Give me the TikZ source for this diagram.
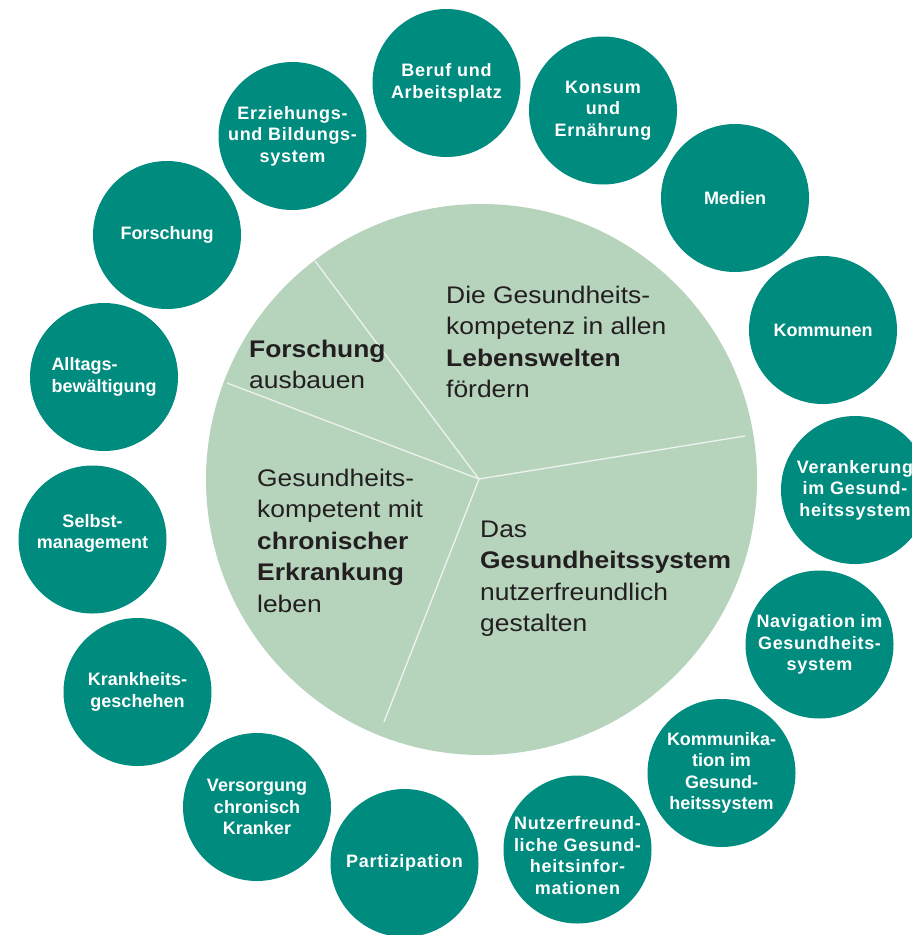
\documentclass[tikz,border=0pt]{standalone}
\usepackage{fontspec}
\setmainfont{Liberation Sans}
\newfontfamily\bubblefont{Liberation Sans}
\newfontfamily\bubblespaced[LetterSpace=4]{Liberation Sans}
\newfontfamily\piefont[FakeStretch=1.1]{Liberation Sans}

\definecolor{bubbleteal}{HTML}{008B7F}
\definecolor{piegreen}{HTML}{B6D3BC}
\definecolor{pietext}{HTML}{231F20}
\definecolor{dividerline}{HTML}{EEF3EF}

\tikzset{
  bubble/.style={circle, fill=bubbleteal, minimum size=148pt, inner sep=0pt,
    text=white, align=center,
    font=\bubblefont\bfseries\fontsize{18}{21.5}\selectfont},
  bubbletext/.style={inner sep=0pt, text=white, align=center,
    font=\bubblefont\bfseries\fontsize{18}{21.5}\selectfont},
  spaced/.style={font=\bubblespaced\bfseries\fontsize{18}{21.5}\selectfont},
  % multi-line text: the base anchor sits on the last line
  pietxt/.style={anchor=base west, inner sep=0pt, align=left, text=pietext,
    font=\piefont\fontsize{24}{31.5}\selectfont},
  divider/.style={draw=dividerline, line width=1.3pt}
}

\begin{document}
\begin{tikzpicture}[x=1pt, y=-1pt]
  \clip (0,0) rectangle (912,935);
  \fill[white] (0,0) rectangle (912,935);

  % central disc with its four fields
  \coordinate (pc) at (481.5,479.5);
  \fill[piegreen] (pc) circle (275.5);
  \coordinate (hub) at (479,479);
  \coordinate (d1) at (315,261);
  \coordinate (d2) at (227,383);
  \coordinate (d3) at (745,436);
  \coordinate (d4) at (384,722);
  \draw[divider] (hub) -- (d1);
  \draw[divider] (hub) -- (d2);
  \draw[divider] (hub) -- (d3);
  \draw[divider] (hub) -- (d4);

  \node[pietxt] (f1) at (446,397.5) {Die Gesundheits-\\kompetenz in allen\\\textbf{Lebenswelten}\\fördern};
  \node[pietxt] (f2) at (249,388.5) {\textbf{Forschung}\\ausbauen};
  \node[pietxt] (f3) at (257,612) {Gesundheits-\\kompetent mit\\\textbf{chronischer}\\\textbf{Erkrankung}\\leben};
  \node[pietxt] (f4) at (480,631.5) {Das\\\textbf{Gesundheitssystem}\\nutzerfreundlich\\gestalten};

  % ring of topic bubbles
  \node[bubble, spaced] (b1) at (446.5,83) {Beruf und\\Arbeitsplatz};
  \node[bubble, spaced] (b2) at (603,110.5) {Konsum\\und\\Ernährung};
  \node[bubble] (b3) at (735,198) {Medien};
  \node[bubble] (b4) at (823,330) {Kommunen};
  \node[bubble, spaced] (b5) at (855,490) {Verankerung\\im Gesund-\\heitssystem};
  \node[bubble, spaced] (b6) at (819.5,644.5) {Navigation im\\Gesundheits-\\system};
  \node[bubble] (b7) at (721.5,773) {Kommunika-\\tion im\\Gesund-\\heitssystem};
  \node[bubble] (b8) at (577.5,849.5) {};
  \node[bubbletext, spaced] (t8) at ([yshift=-6pt]b8.center) {Nutzerfreund-\\liche Gesund-\\heitsinfor-\\mationen};
  \node[bubble, spaced] (b9) at (404.5,863) {Partizipation};
  \node[bubble] (b10) at (257,807) {Versorgung\\chronisch\\Kranker};
  \node[bubble] (b11) at (137.5,692) {Krankheits-\\geschehen};
  \node[bubble] (b12) at (92.5,539.5) {};
  \node[bubbletext] (t12) at ([yshift=6pt]b12.center) {Selbst-\\management};
  \node[bubble, align=left] (b13) at (104,377) {Alltags-\\bewältigung};
  \node[bubble] (b14) at (167,235) {Forschung};
  \node[bubble, spaced] (b15) at (292.5,136) {Erziehungs-\\und Bildungs-\\system};
\end{tikzpicture}
\end{document}
